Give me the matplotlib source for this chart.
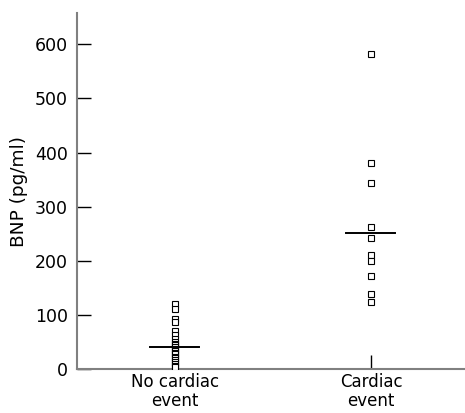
import matplotlib
matplotlib.use("Agg")
import matplotlib.pyplot as plt

# ----------------------------
# DATA
# ----------------------------
groups = ["No cardiac\nevent", "Cardiac\nevent"]

no_event_bnp = [120, 111, 92, 87, 70, 63, 56, 50, 47, 44, 40, 37, 34, 30, 27,
                23, 20, 16, 13, 9, 6, 3]
event_bnp = [582, 380, 343, 262, 243, 210, 200, 172, 138, 124]

medians = [41, 251]

yticks = [0, 100, 200, 300, 400, 500, 600]

# ----------------------------
# PLOT
# ----------------------------
plt.rcParams["font.family"] = ["DejaVu Sans"]

fig = plt.figure(figsize=(4.65, 4.13), dpi=100)
ax = fig.add_axes([0.1656, 0.1065, 0.8344, 0.862])

for i, vals in enumerate([no_event_bnp, event_bnp]):
    ax.plot([i] * len(vals), vals, linestyle="none", marker="s",
            markersize=5, markerfacecolor="white", markeredgecolor="black",
            markeredgewidth=0.8, zorder=3)
    ax.plot([i - 0.125, i + 0.125], [medians[i], medians[i]],
            color="black", lw=1.4, zorder=4)

ax.set_xlim(-0.5, 1.48)
ax.set_ylim(0, 658)

ax.set_xticks([0, 1])
ax.set_xticklabels(groups, fontsize=12, linespacing=1.05)
ax.set_yticks(yticks)
ax.set_yticklabels([str(v) for v in yticks], fontsize=12.5)
ax.set_ylabel("BNP (pg/ml)", fontsize=13.3, labelpad=5)

for s in ["top", "right"]:
    ax.spines[s].set_visible(False)
for s in ["left", "bottom"]:
    ax.spines[s].set_color("#808080")
    ax.spines[s].set_linewidth(1.5)

ax.tick_params(axis="both", direction="in", length=10, width=1,
               color="black")
ax.tick_params(axis="y", pad=6.5)
ax.tick_params(axis="x", pad=3)

fig.savefig("out.png", dpi=100)
